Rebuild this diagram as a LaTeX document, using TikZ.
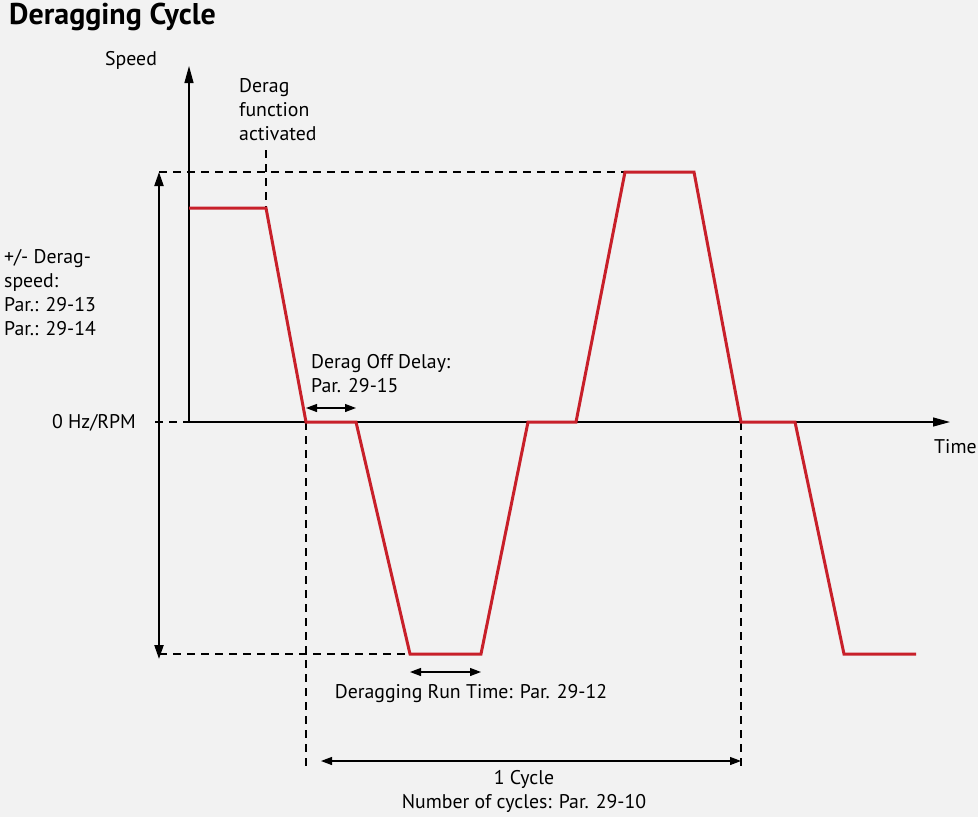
\documentclass[tikz,border=0pt]{standalone}
\usepackage{fontspec}
\setmainfont{PT Sans}
\usetikzlibrary{arrows.meta}
\definecolor{bg}{HTML}{F2F2F2}
\definecolor{curve}{HTML}{C8202A}
\begin{document}
\begin{tikzpicture}[x=1pt,y=-1pt,
  lbl/.style={inner sep=0pt,font=\fontsize{19.8}{24}\selectfont,text=black},
  axis/.style={line width=1.2pt,-{Triangle[length=17pt,width=9pt]}},
  dsh/.style={line width=1.1pt,dash pattern=on 8pt off 6pt},
  dim/.style={line width=1.2pt,{Triangle[length=11pt,width=8pt]}-{Triangle[length=11pt,width=8pt]}},
  bigdim/.style={line width=2.2pt,{Triangle[length=14pt,width=9pt]}-{Triangle[length=14pt,width=9pt]}},
  redline/.style={curve,line width=3pt,line join=miter}]
\fill[bg] (0,0) rectangle (978,817);
\useasboundingbox (0,0) rectangle (978,817);
% title
\node[anchor=base west,inner sep=0pt,font=\fontsize{30}{32}\selectfont\bfseries] (title) at (9,24) {Deragging Cycle};
% coordinates
\coordinate (O) at (189,422);
\coordinate (ytip) at (189,66);
\coordinate (xtip) at (950,422);
\coordinate (top) at (159,172);
\coordinate (bot) at (159,659);
% dashed guides
\draw[dsh] (159,172) -- (625,172);
\draw[dsh] (159,654) -- (410,654);
\draw[dsh] (155,422) -- (189,422);
\draw[dsh] (266,150) -- (266,208);
\draw[dsh] (306,422) -- (306,766);
\draw[dsh] (741,422) -- (741,766);
% axes
\draw[axis] (O) -- (ytip);
\draw[axis] (O) -- (xtip);
% big double arrow
\draw[bigdim] (top) -- (bot);
% red curve
\draw[redline] (189,208) -- (266,208) -- (306,422) -- (356,422) -- (410,654) -- (481,654) -- (528,422) -- (576,422) -- (625,172) -- (694,172) -- (741,422) -- (795,422) -- (844,654) -- (916,654);
% dimension arrows
\coordinate (d1a) at (306,408); \coordinate (d1b) at (356,408);
\draw[dim] (d1a) -- (d1b);
\coordinate (d2a) at (410,672); \coordinate (d2b) at (481,672);
\draw[dim] (d2a) -- (d2b);
\coordinate (d3a) at (321,761); \coordinate (d3b) at (741,761);
\draw[dim] (d3a) -- (d3b);
% labels
\node[lbl,anchor=base] (speed) at (131,65) {Speed};
\node[lbl,anchor=base west] (time) at (934,453) {Time};
\node[lbl,anchor=base east] (zero) at (136,428) {0 Hz/RPM};
\node[lbl,anchor=base west,align=left] (act) at (239,140) {Derag\\function\\activated};
\node[lbl,anchor=base west,align=left] (ds) at (4,335) {+/- Derag-\\speed:\\Par.: 29-13\\Par.: 29-14};
\node[lbl,anchor=base west,align=left] (off) at (311,392) {Derag Off Delay:\\Par. 29-15};
\node[lbl,anchor=base] (run) at (471,698) {Deragging Run Time: Par. 29-12};
\node[lbl,anchor=base,align=center] (cyc) at (524,808) {1 Cycle\\Number of cycles: Par. 29-10};
\end{tikzpicture}
\end{document}
